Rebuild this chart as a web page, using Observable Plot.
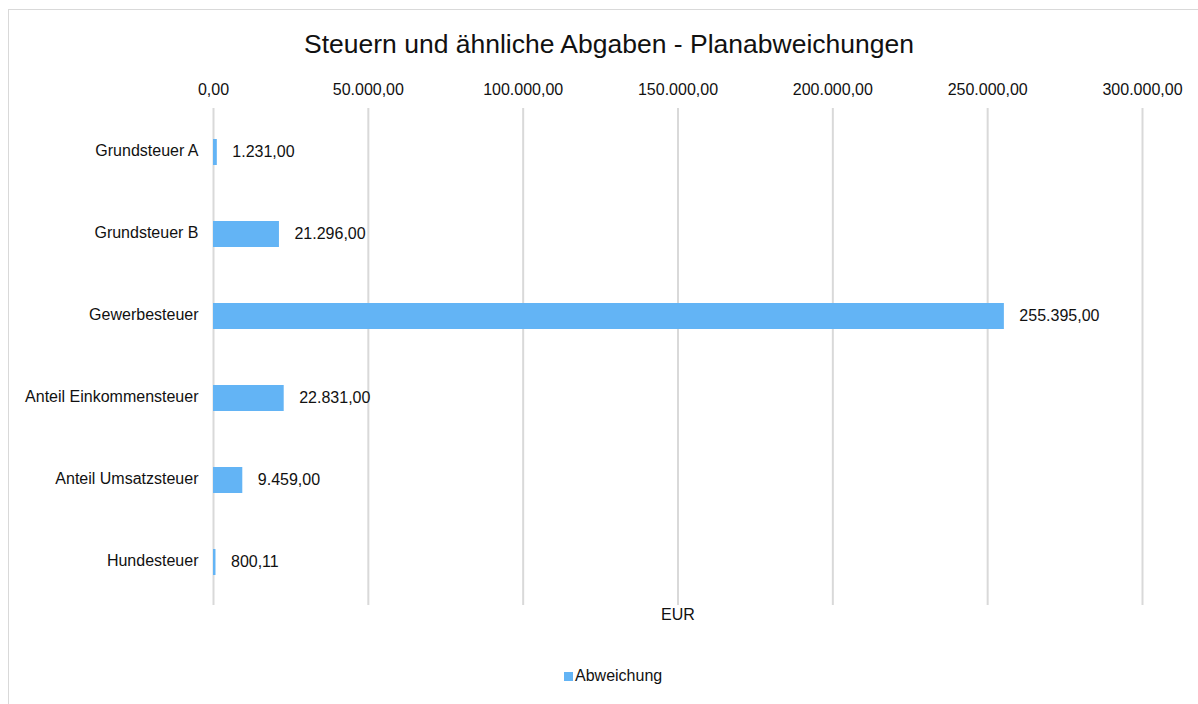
<!DOCTYPE html>
<html>
<head>
<meta charset="utf-8">
<script src="https://cdn.jsdelivr.net/npm/d3@7"></script>
<script src="https://cdn.jsdelivr.net/npm/@observablehq/plot@0.6"></script>
<style>
  html, body { margin: 0; padding: 0; background: #fff; }
  body { width: 1198px; height: 704px; overflow: hidden; position: relative; font-family: "Liberation Sans", Arial, sans-serif; }
  #frame { position: absolute; left: 8px; top: 9px; width: 1300px; height: 800px; border: 1px solid #d9d9d9; box-sizing: border-box; }
  #title { position: absolute; left: 0; width: 1218px; top: 29px; text-align: center; font-size: 26.5px; color: #111; }
  #chart { position: absolute; left: 0; top: 59px; }
  #legend { position: absolute; left: 564px; top: 667px; font-size: 16px; color: #111; display: flex; align-items: center; }
  #legend .sw { width: 9px; height: 9px; background: #63b4f5; margin-right: 2px; }
</style>
</head>
<body>
<div id="frame"></div>
<div id="title">Steuern und ähnliche Abgaben - Planabweichungen</div>
<div id="chart"></div>
<div id="legend"><span class="sw"></span><span>Abweichung</span></div>
<script>
const categories = ["Grundsteuer A", "Grundsteuer B", "Gewerbesteuer", "Anteil Einkommensteuer", "Anteil Umsatzsteuer", "Hundesteuer"];
const values = [1231.00, 21296.00, 255395.00, 22831.00, 9459.00, 800.11];
const xTicks = [0, 50000, 100000, 150000, 200000, 250000, 300000];
const seriesName = "Abweichung";
const axisLabel = "EUR";

function fmtDE(v) {
  const s = Math.abs(v).toFixed(2);
  let [intPart, dec] = s.split(".");
  intPart = intPart.replace(/\B(?=(\d{3})+(?!\d))/g, ".");
  return (v < 0 ? "-" : "") + intPart + "," + dec;
}

const data = categories.map((c, i) => ({ category: c, value: values[i] }));

const chart = Plot.plot({
  width: 1198,
  height: 582,
  marginLeft: 213,
  marginRight: 56,
  marginTop: 49,
  marginBottom: 36,
  style: { fontFamily: "Liberation Sans, Arial, sans-serif", fontSize: "16px", color: "#111", background: "transparent" },
  x: { domain: [0, 300000], ticks: xTicks, label: null },
  y: { domain: categories, paddingInner: 0.686, paddingOuter: 0.343, label: null },
  marks: [
    Plot.gridX(xTicks, { stroke: "#d9d9d9", strokeOpacity: 1, strokeWidth: 2 }),
    Plot.axisX(xTicks, { anchor: "top", tickSize: 0, tickPadding: 14, tickFormat: fmtDE, label: null, fontSize: 16, fill: "#111" }),
    Plot.axisY({ tickSize: 0, tickPadding: 15, label: null, fontSize: 16, fill: "#111", dy: -2 }),
    Plot.barX(data, { y: "category", x: "value", fill: "#63b4f5" }),
    Plot.text(data, { y: "category", x: "value", text: d => fmtDE(d.value), textAnchor: "start", dx: 15, dy: -1, fontSize: 16, fill: "#111" }),
    Plot.text([axisLabel], { frameAnchor: "bottom", dy: 14, fontSize: 16, fill: "#111" })
  ]
});
document.getElementById("chart").appendChild(chart);
</script>
</body>
</html>
